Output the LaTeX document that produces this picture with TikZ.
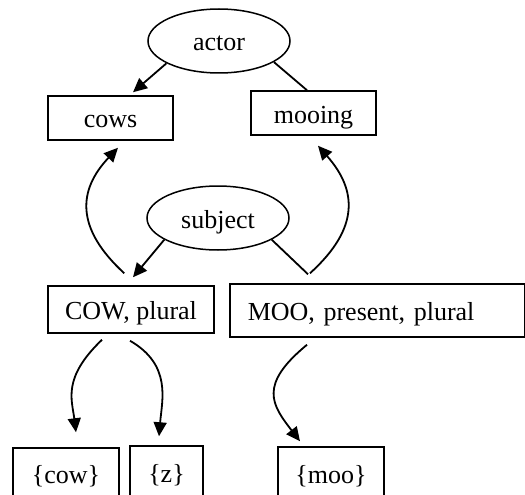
\documentclass[tikz,border=0pt]{standalone}
\usepackage{fontspec}
\setmainfont{Liberation Serif}
\usetikzlibrary{shapes.geometric,arrows.meta,calc}
\begin{document}
\begin{tikzpicture}[x=1pt,y=-1pt,
  every node/.style={font=\fontsize{26}{31}\selectfont, inner sep=0pt, text height=20pt, text depth=0pt},
  box/.style={draw, line width=1.5pt, rectangle},
  oval/.style={draw, line width=1.5pt, ellipse, minimum width=142pt, minimum height=64pt},
  link/.style={line width=1.8pt},
  arr/.style={line width=1.8pt, -{Triangle[length=14pt,width=13pt]}}]
\path[use as bounding box, clip] (0,0) rectangle (525,495);
\node[oval] (actor) at (219,41) {actor};
\node[box, minimum width=125pt, minimum height=44pt] (cows) at (110.5,118) {cows};
\node[box, minimum width=125pt, minimum height=44pt] (mooing) at (313.5,113) {mooing};
\node[oval] (subject) at (218,218) {subject};
\node[box, minimum width=166pt, minimum height=47pt] (COW) at (131,309.5) {COW, plural};
\node[box, anchor=west, minimum height=53pt, text width=259pt, inner xsep=18pt, align=left] (MOO) at (229,310.5) {MOO, present, plural};
\node[box, minimum width=106pt, minimum height=50pt] (cowm) at (66,473) {\{cow\}};
\node[box, minimum width=73pt, minimum height=52pt] (z) at (166.5,472) {\{z\}};
\node[box, minimum width=106pt, minimum height=52pt] (moo) at (331,473) {\{moo\}};

\draw[arr] (actor.203) -- ($(cows.north)+(22.5,-3)$);
\draw[link] (actor.339) -- ($(mooing.north)+(-6.5,0)$);
\draw[arr] (subject.202) -- ($(COW.north)+(2,-8)$);
\draw[link] (subject.338) -- ($(MOO.north west)+(79,-9)$);
\draw[arr] ($(COW.north west)+(77,-12)$) .. controls (75,228) and (78,190) .. ($(cows.south)+(7.5,7)$);
\draw[arr] ($(MOO.north west)+(81,-10)$) .. controls (360,228) and (357,190) .. ($(mooing.south)+(4.5,10)$);
\draw[arr] ($(COW.south)+(-29,6)$) .. controls (62,378) and (72,400) .. ($(cowm.north)+(10,-15)$);
\draw[arr] ($(COW.south)+(-1,7)$) .. controls (172,365) and (162,400) .. ($(z.north)+(-7.5,-9)$);
\draw[arr] ($(MOO.south west)+(78,7)$) .. controls (258,385) and (272,405) .. ($(moo.north)+(-31,-5)$);
\end{tikzpicture}
\end{document}
